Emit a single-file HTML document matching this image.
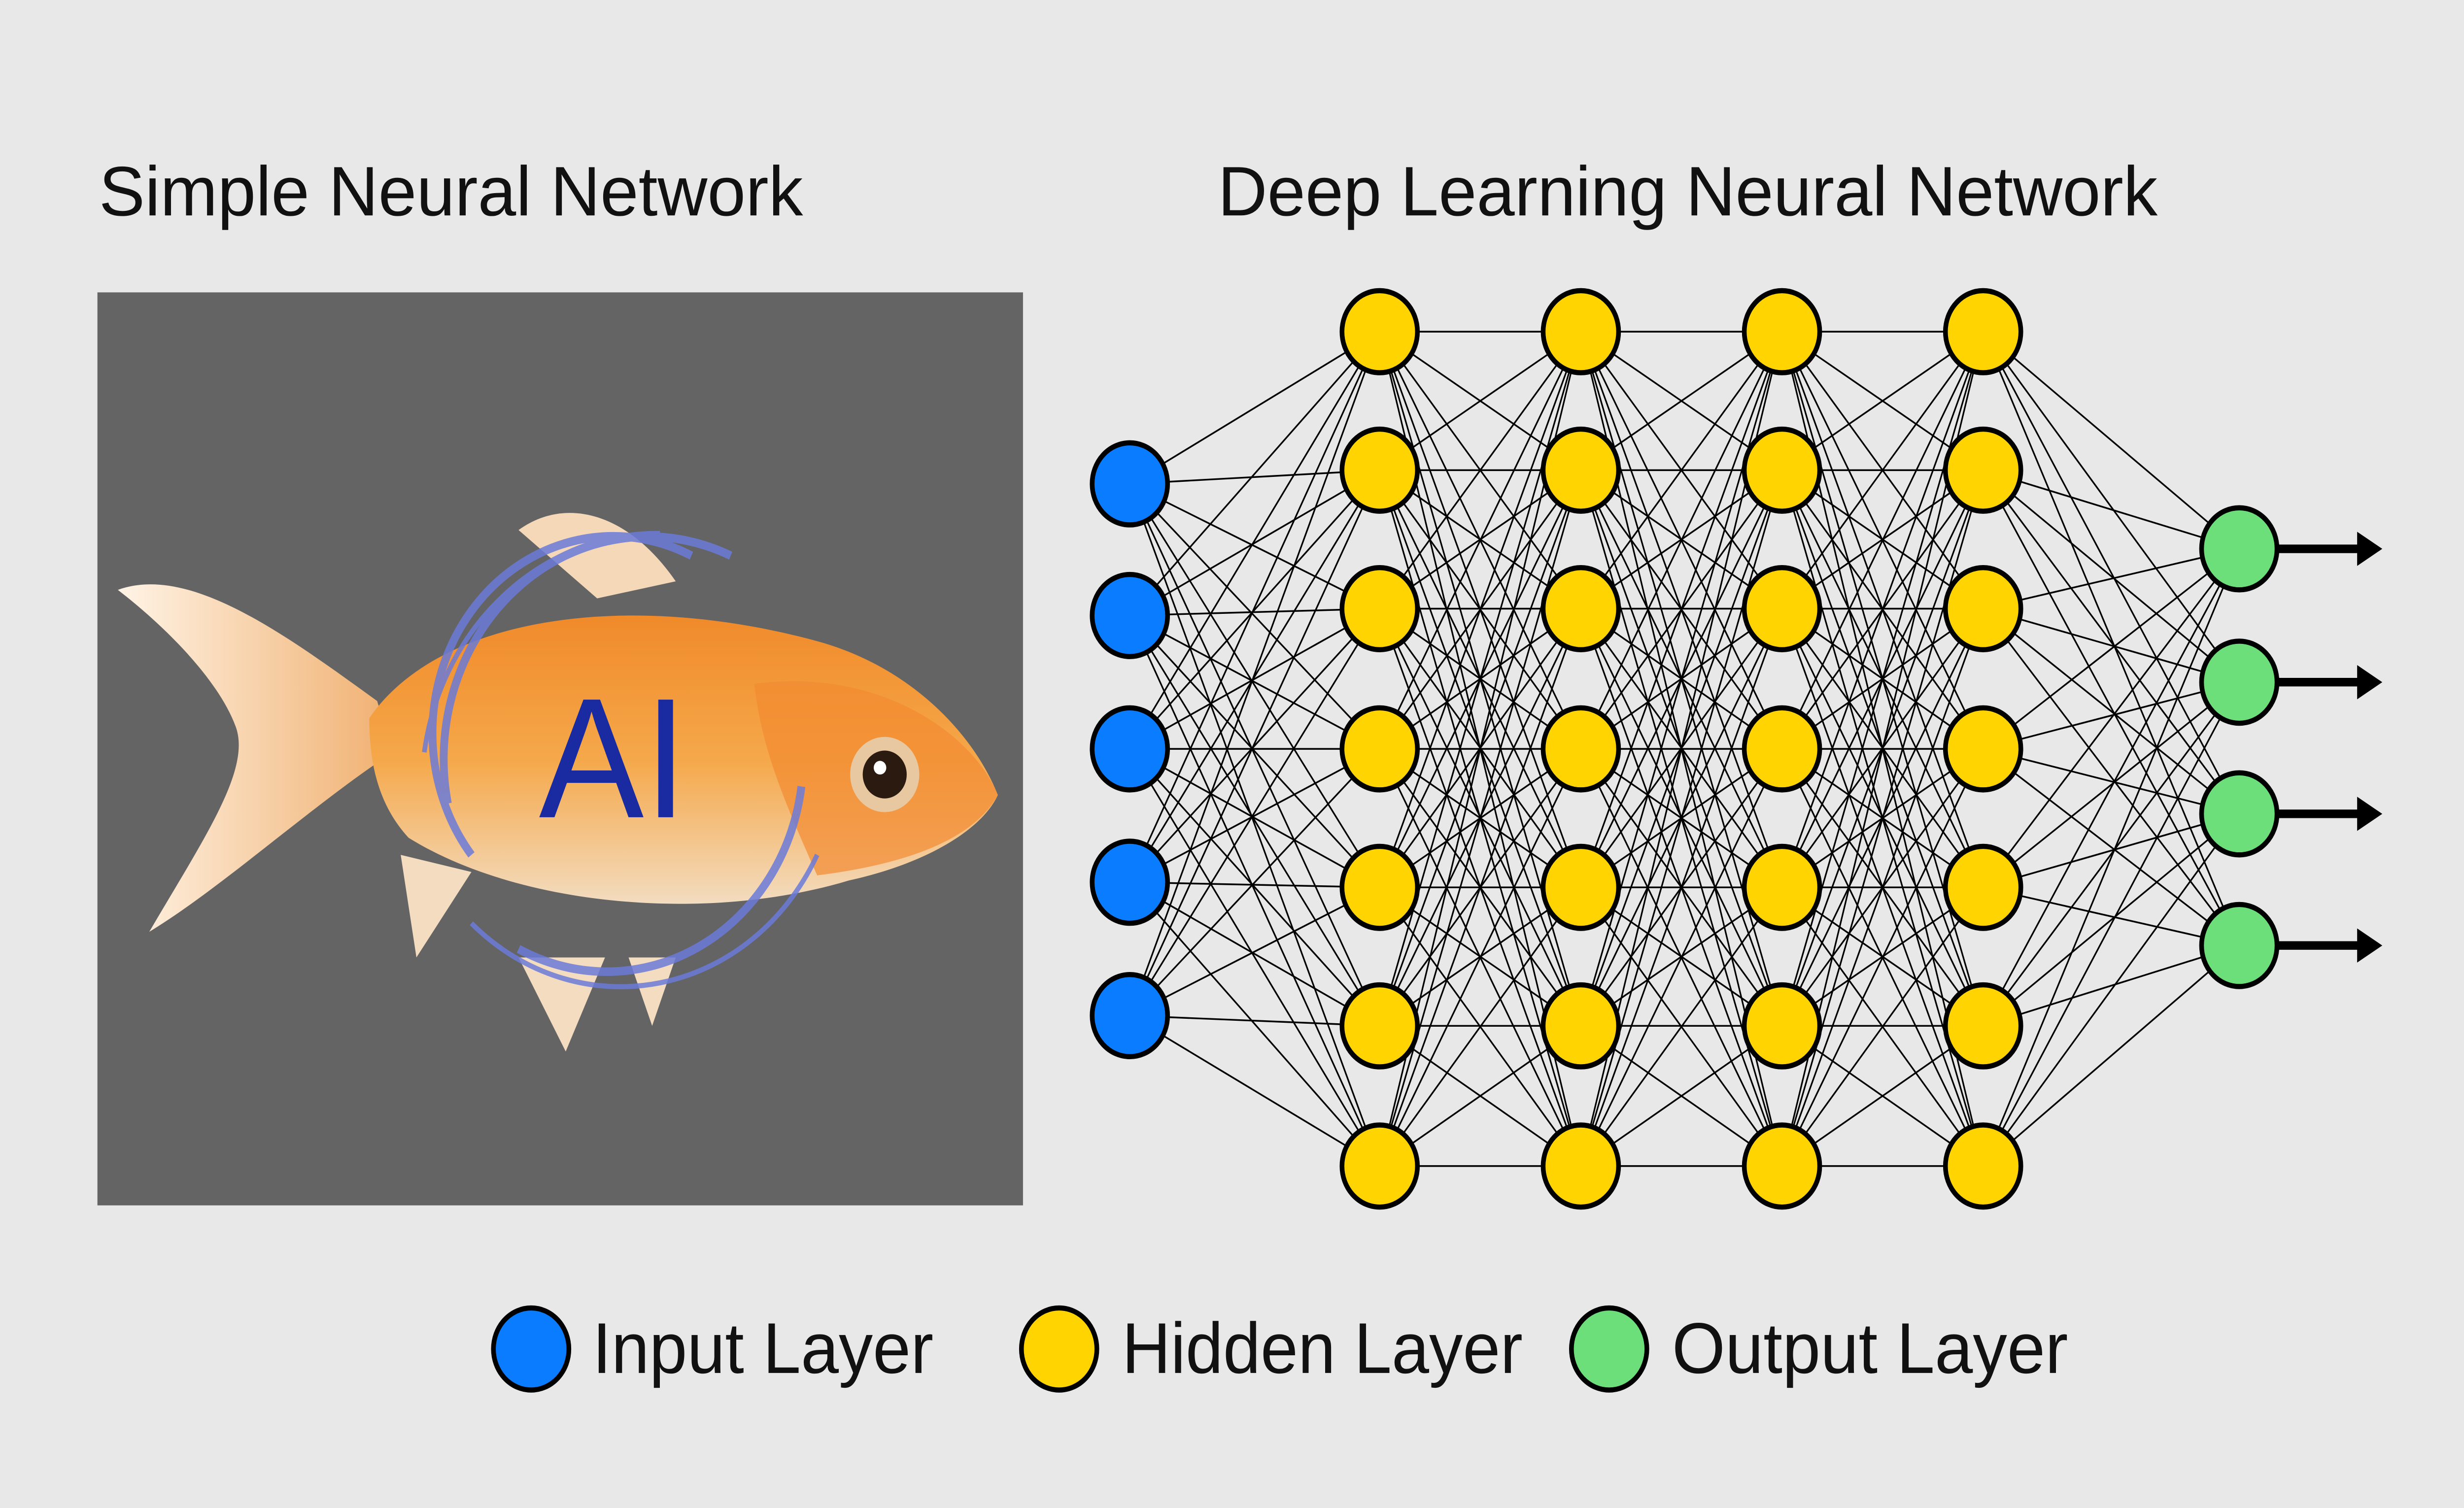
<!DOCTYPE html>
<html><head><meta charset="utf-8">
<style>
html,body{margin:0;padding:0;background:#e8e8e8;width:100%;height:100%;overflow:hidden;}
svg{display:block;position:fixed;left:0;top:0;width:100vw;height:100vh;}
text{font-family:"Liberation Sans","DejaVu Sans",sans-serif;}
</style></head>
<body>
<svg id="s" viewBox="0 0 1568 882" preserveAspectRatio="none" xmlns="http://www.w3.org/2000/svg">
<defs>
<linearGradient id="fb" x1="0" y1="0" x2="0" y2="1">
<stop offset="0" stop-color="#f08a2a"/><stop offset="0.5" stop-color="#f5a84a"/><stop offset="1" stop-color="#f3dcc0"/>
</linearGradient>
<linearGradient id="tl" x1="0" y1="0" x2="1" y2="0">
<stop offset="0" stop-color="#fff4e6"/><stop offset="1" stop-color="#f0b070"/>
</linearGradient>
</defs>
<rect width="1568" height="882" fill="#e8e8e8"/>
<text x="63" y="126" font-size="41" fill="#111" textLength="448" lengthAdjust="spacingAndGlyphs">Simple Neural Network</text>
<text x="775" y="126" font-size="41" fill="#111" textLength="598" lengthAdjust="spacingAndGlyphs">Deep Learning Neural Network</text>
<rect x="62" y="171" width="589" height="534" fill="#646464"/>
<path d="M75,345 C120,330 180,370 240,410 L250,440 C200,470 140,520 95,545 C130,490 160,450 150,425 C140,400 110,370 75,345 Z" fill="url(#tl)"/>
<path d="M330,310 C360,290 400,300 430,340 L380,350 Z" fill="#f4d8b8"/>
<path d="M330,560 L360,615 L385,560 Z" fill="#f4dcc0"/>
<path d="M400,560 L415,600 L430,560 Z" fill="#f4dcc0"/>
<path d="M255,500 L265,560 L300,510 Z" fill="#f4dcc0"/>
<path d="M235,420 C280,360 400,345 520,375 C580,390 620,430 635,465 C625,485 590,505 540,515 C450,540 330,530 260,490 C240,470 235,445 235,420 Z" fill="url(#fb)"/>
<path d="M480,400 C560,390 620,430 635,465 C620,490 580,505 520,512 C500,470 485,440 480,400 Z" fill="#f28a30" opacity="0.7"/>
<circle cx="563" cy="453" r="22" fill="#e8c8a0"/>
<circle cx="563" cy="453" r="14" fill="#2a1a10"/>
<circle cx="560" cy="449" r="4" fill="#fff"/>
<g fill="none" stroke="#6b7bd8" stroke-width="5" opacity="0.85">
<path d="M300,500 A115,115 0 0 1 440,325"/>
<path d="M285,470 A130,130 0 0 1 465,325"/>
<path d="M330,555 A125,125 0 0 0 510,460"/>
<path d="M300,540 A140,140 0 0 0 520,500" stroke-width="3"/>
<path d="M270,440 A150,150 0 0 1 420,312" stroke-width="3"/>
</g>
<text x="343" y="478" font-size="100" fill="#1a2aa0">AI</text>
<g id="lines" stroke="#000" stroke-width="1"></g>
<g id="nodes" stroke="#000" stroke-width="3"></g>
<g stroke="#000" stroke-width="5">
<line x1="1450" y1="321" x2="1505" y2="321"/><line x1="1450" y1="399" x2="1505" y2="399"/>
<line x1="1450" y1="476" x2="1505" y2="476"/><line x1="1450" y1="553" x2="1505" y2="553"/>
</g>
<g fill="#000">
<path d="M1500,311 L1516,321 L1500,331Z"/><path d="M1500,389 L1516,399 L1500,409Z"/>
<path d="M1500,466 L1516,476 L1500,486Z"/><path d="M1500,543 L1516,553 L1500,563Z"/>
</g>
<g stroke="#000" stroke-width="3">
<circle cx="338" cy="789" r="24" fill="#0a7cff"/>
<circle cx="674" cy="789" r="24" fill="#ffd400"/>
<circle cx="1024" cy="789" r="24" fill="#6ddf7a"/>
</g>
<text x="377" y="803" font-size="42" fill="#111" textLength="217" lengthAdjust="spacingAndGlyphs">Input Layer</text>
<text x="714" y="803" font-size="42" fill="#111" textLength="255" lengthAdjust="spacingAndGlyphs">Hidden Layer</text>
<text x="1064" y="803" font-size="42" fill="#111" textLength="252" lengthAdjust="spacingAndGlyphs">Output Layer</text>
</svg>
<script>
var NS="http://www.w3.org/2000/svg";
var hy=[194,275,356,438,519,600,682];
var layers=[
 {x:719,ys:[283,360,438,516,594],c:"#0a7cff"},
 {x:878,ys:hy,c:"#ffd400"},{x:1006,ys:hy,c:"#ffd400"},
 {x:1134,ys:hy,c:"#ffd400"},{x:1262,ys:hy,c:"#ffd400"},
 {x:1425,ys:[321,399,476,553],c:"#6ddf7a"}];
var L=document.getElementById("lines"),N=document.getElementById("nodes");
for(var i=0;i<layers.length-1;i++){var a=layers[i],b=layers[i+1];
 a.ys.forEach(function(y1){b.ys.forEach(function(y2){
  var l=document.createElementNS(NS,"line");
  l.setAttribute("x1",a.x);l.setAttribute("y1",y1);l.setAttribute("x2",b.x);l.setAttribute("y2",y2);L.appendChild(l);});});}
layers.forEach(function(a){a.ys.forEach(function(y){
 var c=document.createElementNS(NS,"circle");
 c.setAttribute("cx",a.x);c.setAttribute("cy",y);c.setAttribute("r",24);c.setAttribute("fill",a.c);N.appendChild(c);});});
</script>
</body></html>
